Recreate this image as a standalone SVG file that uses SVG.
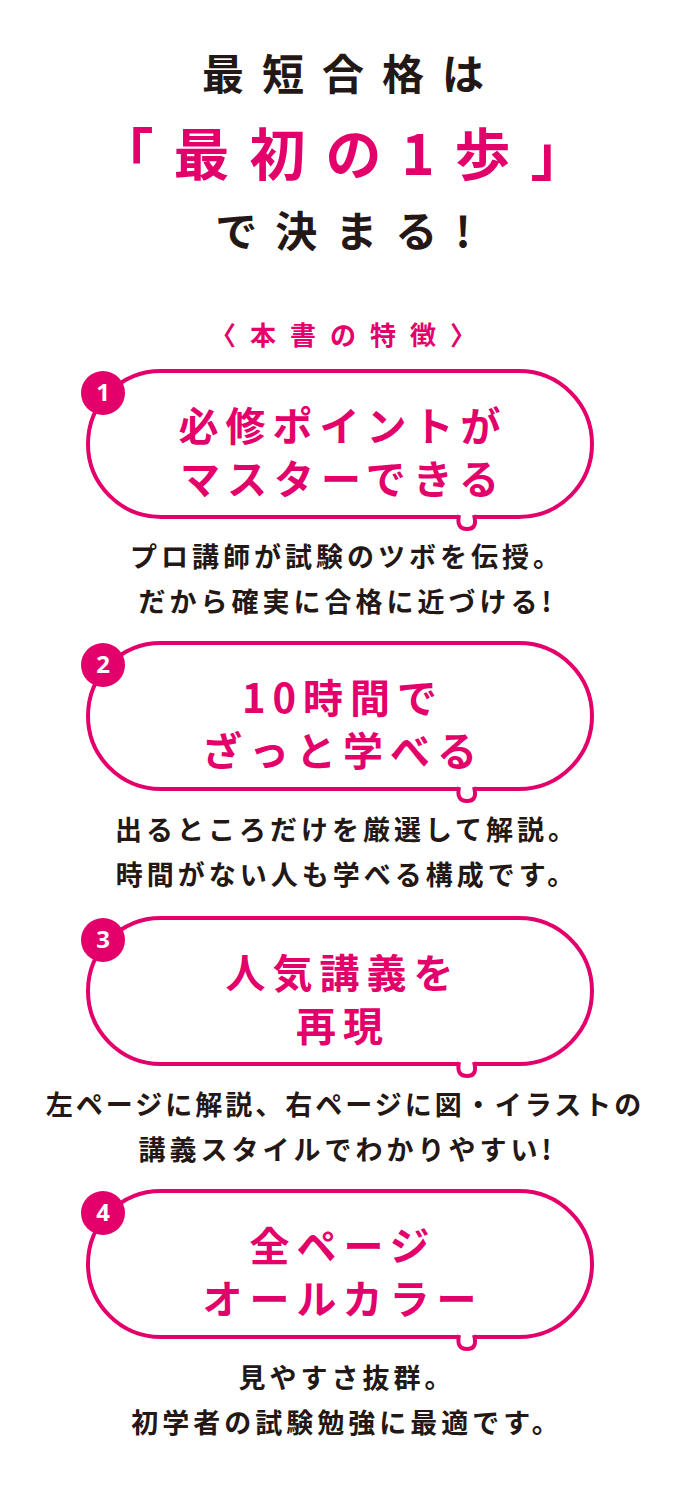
<svg xmlns="http://www.w3.org/2000/svg" width="690" height="1500" viewBox="0 0 690 1500">
<style>
.t{font-family:"Noto Sans CJK JP","Noto Sans",sans-serif;font-weight:bold;text-anchor:middle}
.k{fill:#231815}.p{fill:#E4006B}
.h{font-size:40px;letter-spacing:7px}
.s{font-size:27px;letter-spacing:4px}
.b{fill:none;stroke:#E4006B;stroke-width:4}
.tail{fill:#fff;stroke:#E4006B;stroke-width:4;stroke-linejoin:round}
.n{font-family:"Noto Sans","Liberation Sans",sans-serif;font-weight:bold;font-size:24px;fill:#fff;text-anchor:middle}
</style>
<rect width="690" height="1500" fill="#fff"/>
<g id="title">
<text class="t k" x="352" y="90" font-size="42" letter-spacing="18">最短合格は</text>
<text class="t p" x="352" y="175" font-size="56" letter-spacing="20">「最初の1歩」</text>
<text class="t k" x="352" y="247" font-size="42" letter-spacing="18">で決まる!</text>
<text class="t p" x="350" y="345" font-size="26" letter-spacing="14">〈本書の特徴〉</text>
</g>
<g id="f1">
<rect class="b" x="88" y="371" width="504" height="146" rx="73"/>
<path class="tail" d="M459,515 q-3,14 8,14 q11,0 7,-14"/>
<line x1="461" y1="517" x2="472" y2="517" stroke="#fff" stroke-width="5"/>
<circle cx="103" cy="393" r="22" fill="#E4006B"/><text class="n" x="103" y="401">1</text>
<text class="t p h" x="343" y="441">必修ポイントが</text>
<text class="t p h" x="343" y="494">マスターできる</text>
<text class="t k s" x="347" y="567">プロ講師が試験のツボを伝授。</text>
<text class="t k s" x="347" y="612">だから確実に合格に近づける!</text>
</g>
<g id="f2">
<rect class="b" x="88" y="643" width="504" height="146" rx="73"/>
<path class="tail" d="M459,787 q-3,14 8,14 q11,0 7,-14"/>
<line x1="461" y1="789" x2="472" y2="789" stroke="#fff" stroke-width="5"/>
<circle cx="103" cy="665" r="22" fill="#E4006B"/><text class="n" x="103" y="673">2</text>
<text class="t p h" x="343" y="713">10時間で</text>
<text class="t p h" x="343" y="766">ざっと学べる</text>
<text class="t k s" x="347" y="840">出るところだけを厳選して解説。</text>
<text class="t k s" x="347" y="885">時間がない人も学べる構成です。</text>
</g>
<g id="f3">
<rect class="b" x="88" y="918" width="504" height="146" rx="73"/>
<path class="tail" d="M459,1062 q-3,14 8,14 q11,0 7,-14"/>
<line x1="461" y1="1064" x2="472" y2="1064" stroke="#fff" stroke-width="5"/>
<circle cx="103" cy="940" r="22" fill="#E4006B"/><text class="n" x="103" y="948">3</text>
<text class="t p h" x="343" y="988">人気講義を</text>
<text class="t p h" x="343" y="1041">再現</text>
<text class="t k" x="345" y="1115" font-size="27" letter-spacing="3">左ページに解説、右ページに図・イラストの</text>
<text class="t k s" x="347" y="1160">講義スタイルでわかりやすい!</text>
</g>
<g id="f4">
<rect class="b" x="88" y="1191" width="504" height="146" rx="73"/>
<path class="tail" d="M459,1335 q-3,14 8,14 q11,0 7,-14"/>
<line x1="461" y1="1337" x2="472" y2="1337" stroke="#fff" stroke-width="5"/>
<circle cx="103" cy="1213" r="22" fill="#E4006B"/><text class="n" x="103" y="1221">4</text>
<text class="t p h" x="343" y="1261">全ページ</text>
<text class="t p h" x="343" y="1314">オールカラー</text>
<text class="t k s" x="347" y="1388">見やすさ抜群。</text>
<text class="t k s" x="347" y="1433">初学者の試験勉強に最適です。</text>
</g>
</svg>
